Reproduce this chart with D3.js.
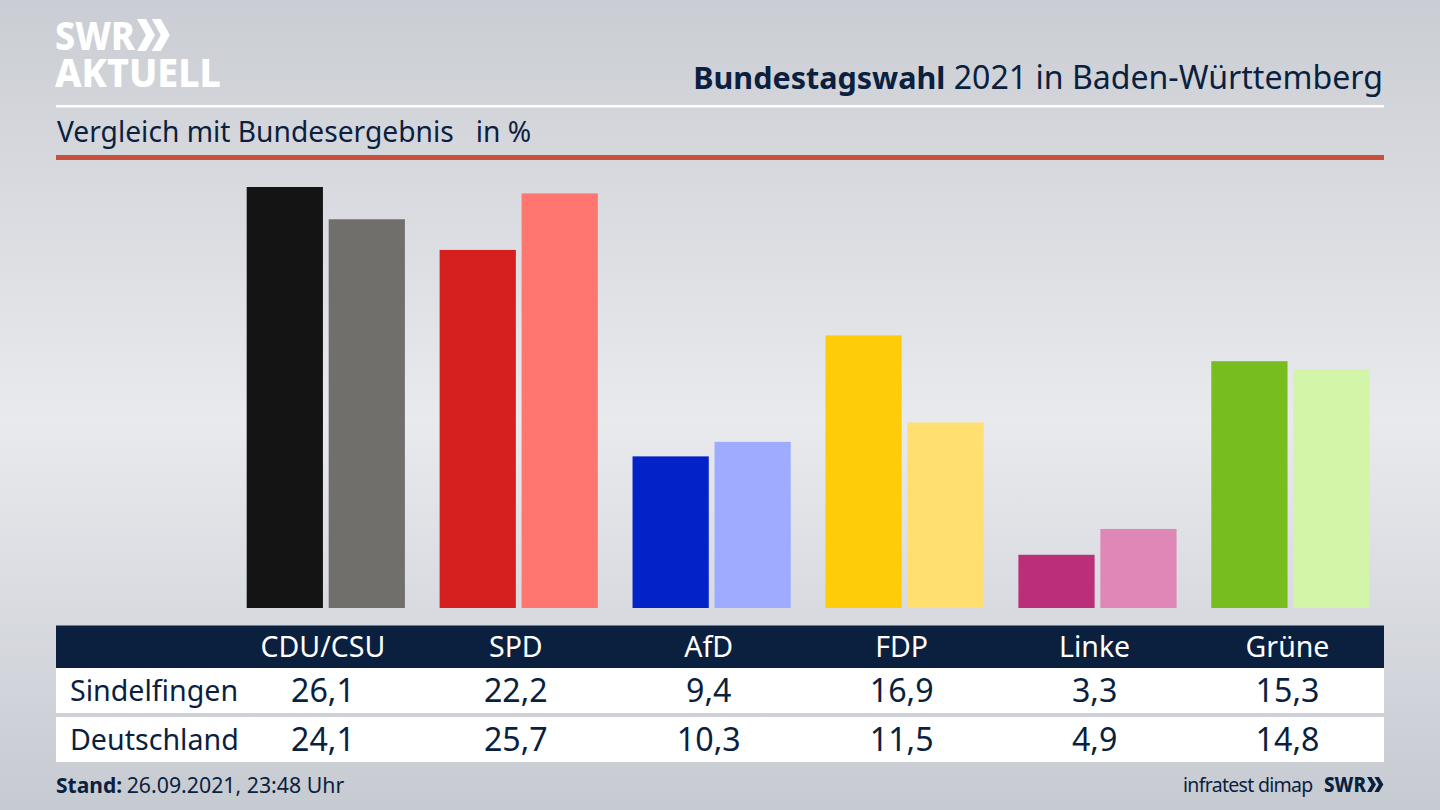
<!DOCTYPE html>
<html>
<head>
<meta charset="utf-8">
<script src="https://cdn.jsdelivr.net/npm/d3@7"></script>
<style>
html, body { margin: 0; padding: 0; background: #d5d7dc; }
svg { display: block; }
text { font-family: "Noto Sans", sans-serif; fill: #0b1f3f; }
</style>
</head>
<body>
<svg width="1440" height="810"></svg>
<script>
var parties = ["CDU/CSU", "SPD", "AfD", "FDP", "Linke", "Grüne"];
var regions = ["Sindelfingen", "Deutschland"];
var sindelfingen = [26.1, 22.2, 9.4, 16.9, 3.3, 15.3];
var deutschland = [24.1, 25.7, 10.3, 11.5, 4.9, 14.8];
var strongColors = ["#141414", "#d61f1f", "#0322c7", "#ffcc0a", "#bb2f78", "#78bd1e"];
var paleColors = ["#706f6c", "#ff7570", "#9eacff", "#ffdf70", "#df88b8", "#d2f5a8"];

var navy = "#0b1f3f";
var svg = d3.select("svg");

// background, light band through the middle
var defs = svg.append("defs");
var bg = defs.append("linearGradient")
    .attr("id", "bg")
    .attr("x1", 0).attr("y1", 0).attr("x2", 0).attr("y2", 1);
bg.append("stop").attr("offset", "0%").attr("stop-color", "#cacdd3");
bg.append("stop").attr("offset", "52%").attr("stop-color", "#e9eaee");
bg.append("stop").attr("offset", "100%").attr("stop-color", "#c6cad1");
svg.append("rect")
    .attr("width", 1440)
    .attr("height", 810)
    .attr("fill", "url(#bg)");

// header
svg.append("rect").attr("x", 56).attr("y", 105).attr("width", 1328).attr("height", 2.5).attr("fill", "#fff");
svg.append("rect").attr("x", 56).attr("y", 155).attr("width", 1328).attr("height", 5).attr("fill", "#c8503c");

var title = svg.append("text")
    .attr("x", 1383)
    .attr("y", 89)
    .attr("text-anchor", "end");
title.append("tspan").style("font-size", "30.5px").style("font-weight", 700).text("Bundestagswahl");
title.append("tspan").style("font-size", "32.1px").text(" 2021 in Baden-Württemberg");

svg.append("text")
    .attr("x", 57)
    .attr("y", 142)
    .style("font-size", "28.2px")
    .attr("xml:space", "preserve")
    .text("Vergleich mit Bundesergebnis   in %");

// logo
var logo = svg.append("text")
    .style("font-size", "40px")
    .style("font-weight", 800)
    .style("fill", "#fff");
logo.append("tspan")
    .attr("x", 55).attr("y", 50)
    .attr("textLength", 80).attr("lengthAdjust", "spacingAndGlyphs")
    .text("SWR");
logo.append("tspan")
    .attr("x", 55).attr("y", 87)
    .attr("textLength", 166).attr("lengthAdjust", "spacingAndGlyphs")
    .text("AKTUELL");

function chevrons(x, y, w, h, color) {
    [0, 1].forEach(function (i) {
        var x0 = x + i * w * 0.82;
        svg.append("path")
            .attr("d", "M" + x0 + "," + y + "h" + w * 0.5 + "l" + w * 0.5 + "," + h / 2 +
                "l" + (-w * 0.5) + "," + h / 2 + "h" + (-w * 0.5) + "l" + w * 0.5 + "," + (-h / 2) + "z")
            .attr("fill", color);
    });
}
chevrons(137, 19, 18, 32, "#fff");

// bars
var baseline = 608;
var x0 = d3.scaleBand().domain(parties).range([246.7, 1369.5]).paddingInner(0.18).paddingOuter(0);
var x1 = d3.scaleBand().domain(regions).range([0, x0.bandwidth()]).paddingInner(0.07).paddingOuter(0);
var y = d3.scaleLinear().domain([0, 26.1]).range([baseline, 187]);

var group = svg.append("g")
    .selectAll("g")
    .data(parties)
    .enter()
    .append("g")
    .attr("transform", function (d) { return "translate(" + x0(d) + ",0)"; });

group.append("rect")
    .attr("x", x1(regions[0]))
    .attr("y", function (d, i) { return y(sindelfingen[i]); })
    .attr("width", x1.bandwidth())
    .attr("height", function (d, i) { return baseline - y(sindelfingen[i]); })
    .attr("fill", function (d, i) { return strongColors[i]; });

group.append("rect")
    .attr("x", x1(regions[1]))
    .attr("y", function (d, i) { return y(deutschland[i]); })
    .attr("width", x1.bandwidth())
    .attr("height", function (d, i) { return baseline - y(deutschland[i]); })
    .attr("fill", function (d, i) { return paleColors[i]; });

// table
svg.append("rect").attr("x", 56).attr("y", 625.5).attr("width", 1328).attr("height", 42.5).attr("fill", navy);
svg.append("rect").attr("x", 56).attr("y", 668).attr("width", 1328).attr("height", 45).attr("fill", "#fff");
svg.append("rect").attr("x", 56).attr("y", 717).attr("width", 1328).attr("height", 45).attr("fill", "#fff");

function colX(d) { return x0(d) + x1.bandwidth(); }

svg.append("g").selectAll("text")
    .data(parties)
    .enter()
    .append("text")
    .attr("x", colX)
    .attr("y", 657)
    .attr("text-anchor", "middle")
    .style("font-size", "28.5px")
    .style("fill", "#fff")
    .text(function (d) { return d; });

var rowY = [701, 750];
[sindelfingen, deutschland].forEach(function (values, r) {
    svg.append("text")
        .attr("x", 70)
        .attr("y", rowY[r])
        .style("font-size", "28.6px")
        .text(regions[r]);
    svg.append("g").selectAll("text")
        .data(values)
        .enter()
        .append("text")
        .attr("x", function (d, i) { return colX(parties[i]); })
        .attr("y", rowY[r] + 1)
        .attr("text-anchor", "middle")
        .style("font-size", "32.2px")
        .text(function (d) { return d3.format(".1f")(d).replace(".", ","); });
});

// footer
var stand = svg.append("text")
    .attr("x", 56)
    .attr("y", 793)
    .style("font-size", "21px");
stand.append("tspan").style("font-weight", 700).text("Stand:");
stand.append("tspan").attr("dx", -1).style("font-size", "21.3px").text(" 26.09.2021, 23:48 Uhr");

svg.append("text")
    .attr("x", 1183)
    .attr("y", 792)
    .style("font-size", "19.5px")
    .style("letter-spacing", "-0.7px")
    .text("infratest dimap");
svg.append("text")
    .attr("x", 1324)
    .attr("y", 792)
    .style("font-size", "21px")
    .style("font-weight", 800)
    .attr("textLength", 42).attr("lengthAdjust", "spacingAndGlyphs")
    .text("SWR");
chevrons(1367, 777, 9, 15, navy);
</script>
</body>
</html>
